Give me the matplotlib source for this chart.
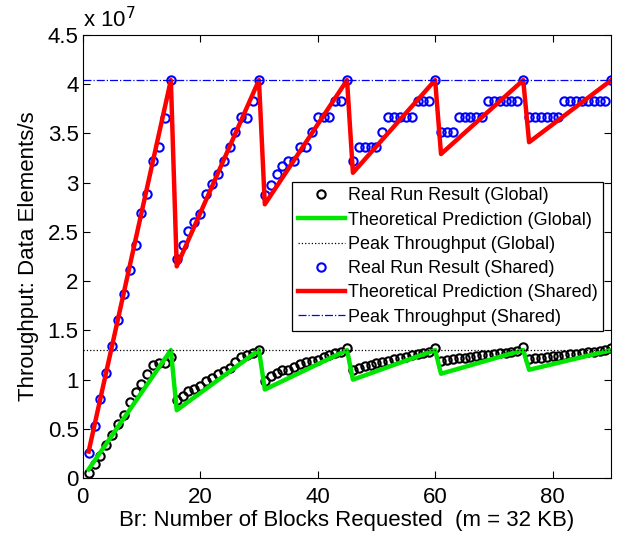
import matplotlib
matplotlib.use('Agg')
import matplotlib.pyplot as plt

plt.rcParams['font.family'] = ['Liberation Sans', 'DejaVu Sans']

# 블록 수 (Br)
blocks = list(range(1, 91))

# 실측값 (단위: 1e7 elements/s)
shared_real = [0.26, 0.53, 0.80, 1.07, 1.34, 1.61, 1.87, 2.11, 2.37, 2.69, 2.88, 3.22, 3.36, 3.66, 4.04,
               2.22, 2.37, 2.51, 2.60, 2.68, 2.88, 2.99, 3.09, 3.22, 3.36, 3.51, 3.67, 3.66, 3.83, 4.04,
               2.87, 2.98, 3.09, 3.17, 3.22, 3.22, 3.36, 3.36, 3.51, 3.67, 3.67, 3.67, 3.83, 3.83, 4.04,
               3.22, 3.36, 3.36, 3.36, 3.36, 3.51, 3.67, 3.67, 3.67, 3.67, 3.67, 3.83, 3.83, 3.83, 4.04,
               3.51, 3.51, 3.51, 3.67, 3.67, 3.67, 3.67, 3.67, 3.83, 3.83, 3.83, 3.83, 3.83, 3.83, 4.04,
               3.67, 3.67, 3.67, 3.67, 3.67, 3.67, 3.83, 3.83, 3.83, 3.83, 3.83, 3.83, 3.83, 3.83, 4.04]

global_real = [0.05, 0.14, 0.23, 0.34, 0.44, 0.55, 0.64, 0.77, 0.87, 0.96, 1.06, 1.15, 1.17, 1.17, 1.23,
               0.79, 0.83, 0.88, 0.91, 0.94, 0.99, 1.02, 1.06, 1.09, 1.12, 1.18, 1.23, 1.25, 1.27, 1.30,
               0.99, 1.04, 1.07, 1.10, 1.10, 1.13, 1.16, 1.18, 1.19, 1.20, 1.23, 1.25, 1.27, 1.28, 1.32,
               1.10, 1.12, 1.14, 1.15, 1.17, 1.18, 1.19, 1.21, 1.22, 1.23, 1.25, 1.26, 1.27, 1.28, 1.32,
               1.19, 1.20, 1.21, 1.22, 1.22, 1.23, 1.24, 1.25, 1.25, 1.26, 1.27, 1.27, 1.28, 1.29, 1.33,
               1.21, 1.22, 1.22, 1.23, 1.24, 1.24, 1.25, 1.26, 1.26, 1.27, 1.28, 1.28, 1.29, 1.30, 1.32]

# 이론값 (꺾이는 점만)
theory_x = [1, 15, 16, 30, 31, 45, 46, 60, 61, 75, 76, 90]
shared_theory = [0.27, 4.04, 2.15, 4.04, 2.78, 4.04, 3.10, 4.04, 3.29, 4.04, 3.41, 4.04]
global_theory = [0.09, 1.30, 0.69, 1.30, 0.90, 1.30, 1.00, 1.30, 1.06, 1.30, 1.10, 1.30]

# 최대 처리량
peak_x = [0, 90]
peak_global = 1.30
peak_shared = 4.04

fig = plt.figure(figsize=(6.27, 5.44), dpi=100)
ax = fig.add_axes([0.132, 0.121, 0.843, 0.815])

ax.plot(blocks, global_real, 'o', color='black', markerfacecolor='none',
        markersize=6, markeredgewidth=1.5, label='Real Run Result (Global)')
ax.plot(theory_x, global_theory, '-', color='#00e600', linewidth=3.2,
        label='Theoretical Prediction (Global)')
ax.plot(peak_x, [peak_global] * 2, ':', color='black', linewidth=0.9,
        label='Peak Throughput (Global)')
ax.plot(blocks, shared_real, 'o', color='#0000ff', markerfacecolor='none',
        markersize=6, markeredgewidth=1.5, label='Real Run Result (Shared)')
ax.plot(theory_x, shared_theory, '-', color='#ff0000', linewidth=3.2,
        label='Theoretical Prediction (Shared)')
ax.plot(peak_x, [peak_shared] * 2, '-.', color='#0000ff', linewidth=0.9,
        label='Peak Throughput (Shared)')

ax.set_xlim(0, 90)
ax.set_ylim(0, 4.5)
ax.set_xticks([0, 20, 40, 60, 80])
ax.set_yticks([0, 0.5, 1, 1.5, 2, 2.5, 3, 3.5, 4, 4.5])
ax.set_yticklabels(['0', '0.5', '1', '1.5', '2', '2.5', '3', '3.5', '4', '4.5'])
ax.tick_params(direction='in', top=True, right=True, labelsize=16, length=5)
ax.tick_params(axis='x', pad=6)
ax.tick_params(axis='y', pad=3)
ax.text(0.0, 1.005, r'x 10$^{7}$', transform=ax.transAxes, fontsize=16,
        ha='left', va='bottom')

ax.set_xlabel('Br: Number of Blocks Requested  (m = 32 KB)', fontsize=16, labelpad=2)
ax.set_ylabel('Throughput: Data Elements/s', fontsize=16, labelpad=6)

leg = ax.legend(loc='upper right', bbox_to_anchor=(0.985, 0.668), fontsize=13,
                frameon=True, fancybox=False, edgecolor='black', framealpha=1,
                handlelength=2.6, handletextpad=0.2, labelspacing=0.4,
                borderpad=0.3, borderaxespad=0)
leg.get_frame().set_linewidth(0.9)

plt.savefig('out.png', dpi=100)
